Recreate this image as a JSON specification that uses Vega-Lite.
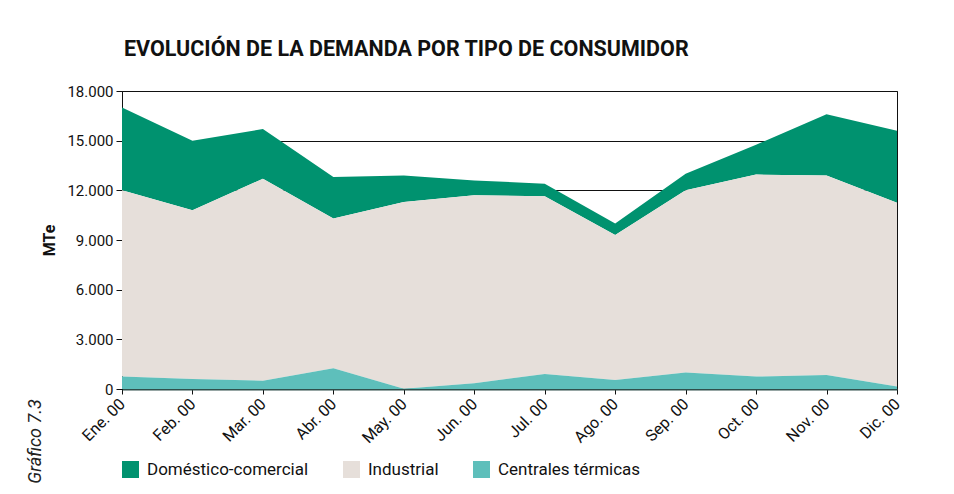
{
  "$schema": "https://vega.github.io/schema/vega-lite/v6.json",
  "autosize": "none",
  "width": 775,
  "height": 298,
  "padding": {"left": 122, "top": 91, "right": 57, "bottom": 105},
  "background": "white",
  "title": {
    "text": "EVOLUCIÓN DE LA DEMANDA POR TIPO DE CONSUMIDOR",
    "anchor": "start",
    "frame": "group",
    "font": "Roboto",
    "fontSize": 21.5,
    "fontWeight": "bold",
    "color": "#111111",
    "offset": 24,
    "dx": 2
  },
  "config": {
    "view": {"stroke": "#111111", "strokeWidth": 1},
    "font": "Roboto"
  },
  "data": {
    "values": [
      {"mes": "Ene. 00", "tipo": "Doméstico-comercial", "valor": 5000},
      {"mes": "Ene. 00", "tipo": "Industrial", "valor": 11250},
      {"mes": "Ene. 00", "tipo": "Centrales térmicas", "valor": 750},
      {"mes": "Feb. 00", "tipo": "Doméstico-comercial", "valor": 4200},
      {"mes": "Feb. 00", "tipo": "Industrial", "valor": 10200},
      {"mes": "Feb. 00", "tipo": "Centrales térmicas", "valor": 600},
      {"mes": "Mar. 00", "tipo": "Doméstico-comercial", "valor": 3000},
      {"mes": "Mar. 00", "tipo": "Industrial", "valor": 12200},
      {"mes": "Mar. 00", "tipo": "Centrales térmicas", "valor": 500},
      {"mes": "Abr. 00", "tipo": "Doméstico-comercial", "valor": 2500},
      {"mes": "Abr. 00", "tipo": "Industrial", "valor": 9050},
      {"mes": "Abr. 00", "tipo": "Centrales térmicas", "valor": 1250},
      {"mes": "May. 00", "tipo": "Doméstico-comercial", "valor": 1600},
      {"mes": "May. 00", "tipo": "Industrial", "valor": 11280},
      {"mes": "May. 00", "tipo": "Centrales térmicas", "valor": 20},
      {"mes": "Jun. 00", "tipo": "Doméstico-comercial", "valor": 900},
      {"mes": "Jun. 00", "tipo": "Industrial", "valor": 11350},
      {"mes": "Jun. 00", "tipo": "Centrales térmicas", "valor": 350},
      {"mes": "Jul. 00", "tipo": "Doméstico-comercial", "valor": 750},
      {"mes": "Jul. 00", "tipo": "Industrial", "valor": 10750},
      {"mes": "Jul. 00", "tipo": "Centrales térmicas", "valor": 900},
      {"mes": "Ago. 00", "tipo": "Doméstico-comercial", "valor": 700},
      {"mes": "Ago. 00", "tipo": "Industrial", "valor": 8750},
      {"mes": "Ago. 00", "tipo": "Centrales térmicas", "valor": 550},
      {"mes": "Sep. 00", "tipo": "Doméstico-comercial", "valor": 1000},
      {"mes": "Sep. 00", "tipo": "Industrial", "valor": 11000},
      {"mes": "Sep. 00", "tipo": "Centrales térmicas", "valor": 1000},
      {"mes": "Oct. 00", "tipo": "Doméstico-comercial", "valor": 1800},
      {"mes": "Oct. 00", "tipo": "Industrial", "valor": 12200},
      {"mes": "Oct. 00", "tipo": "Centrales térmicas", "valor": 750},
      {"mes": "Nov. 00", "tipo": "Doméstico-comercial", "valor": 3700},
      {"mes": "Nov. 00", "tipo": "Industrial", "valor": 12050},
      {"mes": "Nov. 00", "tipo": "Centrales térmicas", "valor": 850},
      {"mes": "Dic. 00", "tipo": "Doméstico-comercial", "valor": 4350},
      {"mes": "Dic. 00", "tipo": "Industrial", "valor": 11100},
      {"mes": "Dic. 00", "tipo": "Centrales térmicas", "valor": 150}
    ]
  },
  "transform": [
    {"calculate": "indexof(['Centrales térmicas','Industrial','Doméstico-comercial'], datum.tipo)", "as": "orden"}
  ],
  "encoding": {
    "x": {
      "field": "mes",
      "type": "ordinal",
      "sort": null,
      "scale": {"type": "point", "padding": 0},
      "axis": {
        "title": null,
        "labelAngle": -45,
        "labelFontSize": 16,
        "labelColor": "#111111",
        "labelAlign": "right",
        "labelBaseline": "middle",
        "labelPadding": 7,
        "tickSize": 5,
        "tickColor": "#111111",
        "domainColor": "#2f4f4b",
        "domainWidth": 2,
        "grid": false
      }
    }
  },
  "layer": [
    {
      "mark": {"type": "area", "opacity": 1},
      "encoding": {
        "y": {
          "field": "valor",
          "type": "quantitative",
          "stack": "zero",
          "scale": {"domain": [0, 18000], "nice": false},
          "axis": {
            "orient": "left",
            "title": "MTe",
            "titleFontSize": 16,
            "titleFontWeight": "bold",
            "titleColor": "#111111",
            "titlePadding": 9,
            "values": [0, 3000, 6000, 9000, 12000, 15000, 18000],
            "labelExpr": "replace(format(datum.value, ','), ',', '.')",
            "labelFontSize": 15,
            "labelColor": "#111111",
            "labelPadding": 3,
            "tickSize": 6,
            "tickColor": "#111111",
            "domainColor": "#111111",
            "grid": true,
            "gridColor": "#111111",
            "gridWidth": 1,
            "gridOpacity": 1
          }
        },
        "color": {
          "field": "tipo",
          "type": "nominal",
          "scale": {
            "domain": ["Doméstico-comercial", "Industrial", "Centrales térmicas"],
            "range": ["#00926f", "#e6dfda", "#5ebfbb"]
          },
          "legend": {
            "title": null,
            "orient": "bottom",
            "direction": "horizontal",
            "symbolType": "square",
            "symbolSize": 289,
            "symbolStrokeWidth": 0,
            "symbolOpacity": 1,
            "labelFontSize": 17,
            "labelColor": "#111111",
            "labelOffset": 8,
            "labelLimit": 0,
            "columnPadding": 34,
            "offset": 15,
            "padding": 0
          }
        },
        "order": {"field": "orden", "type": "quantitative"}
      }
    },
    {
      "mark": {"type": "rule", "opacity": 0},
      "encoding": {
        "y": {
          "field": "valor",
          "type": "quantitative",
          "axis": {
            "orient": "left",
            "title": "Gráfico 7.3",
            "titleFontSize": 18,
            "titleFontStyle": "italic",
            "titleFontWeight": "normal",
            "titleColor": "#222222",
            "titleAngle": 270,
            "titleAlign": "center",
            "titleBaseline": "middle",
            "titleX": -87,
            "titleY": 350,
            "labels": false,
            "ticks": false,
            "domain": false,
            "grid": false
          }
        }
      }
    }
  ],
  "resolve": {"axis": {"y": "independent"}}
}
